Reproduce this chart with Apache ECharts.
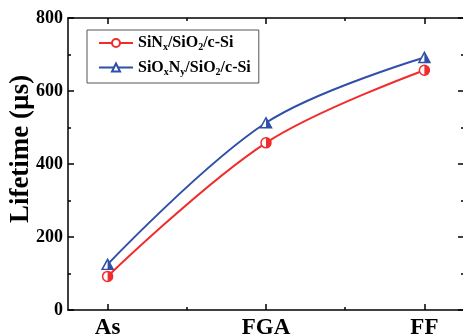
<!DOCTYPE html>
<html><head><meta charset="utf-8">
<script src="https://cdn.jsdelivr.net/npm/echarts@6/dist/echarts.min.js"></script>
<style>html,body{margin:0;padding:0;background:#fff}#c{width:463px;height:335px}</style>
</head><body><div id="c"></div>
<script>
var categories = ['As', 'FGA', 'FF'];
var sinxValues = [92, 458, 657];
var sioxnyValues = [125, 513, 692];
var yTicks = [0, 200, 400, 600, 800];
var seriesNames = ['SiNx/SiO2/c-Si', 'SiOxNy/SiO2/c-Si'];
var legendRich = {
  'SiNx/SiO2/c-Si': '{a|SiN}{s|x}{a|/SiO}{s|2}{a|/c-Si}',
  'SiOxNy/SiO2/c-Si': '{a|SiO}{s|x}{a|N}{s|y}{a|/SiO}{s|2}{a|/c-Si}'
};
var RED = '#f02c2c', BLUE = '#2f4fa8';
var FONT = 'Liberation Serif';
var catIdx = categories.map(function (c, i) { return i; });
function pts(vals) { return vals.map(function (v, i) { return [catIdx[i], v]; }); }

var chart = echarts.init(document.getElementById('c'));
var baseX = { type: 'value', min: -0.25, max: 2.25, splitLine: { show: false } };
var tickStyle = { color: '#000', width: 1.5 };
chart.setOption({
  animation: false,
  grid: { left: 68, top: 18, width: 396, height: 292, containLabel: false, outerBoundsMode: 'none' },
  xAxis: [
    Object.assign({}, baseX, {
      position: 'bottom',
      axisLine: { show: true, onZero: false, lineStyle: { color: '#000', width: 1.5 } },
      axisTick: { show: true, inside: true, length: 6, lineStyle: tickStyle, customValues: catIdx },
      axisLabel: { show: true, margin: 7, customValues: catIdx, color: '#000', fontFamily: FONT, fontWeight: 'bold', fontSize: 23,
        formatter: function (v) { return categories[Math.round(v)]; } }
    }),
    Object.assign({}, baseX, {
      position: 'bottom',
      axisLine: { show: false, onZero: false },
      axisTick: { show: true, inside: true, length: 3, lineStyle: tickStyle, customValues: [0.5, 1.5] },
      axisLabel: { show: false }
    }),
    Object.assign({}, baseX, {
      position: 'top',
      axisLine: { show: true, onZero: false, lineStyle: { color: '#000', width: 1.5 } },
      axisTick: { show: true, inside: true, length: 6, lineStyle: tickStyle, customValues: catIdx },
      axisLabel: { show: false }
    }),
    Object.assign({}, baseX, {
      position: 'top',
      axisLine: { show: false, onZero: false },
      axisTick: { show: true, inside: true, length: 3, lineStyle: tickStyle, customValues: [0.5, 1.5] },
      axisLabel: { show: false }
    })
  ],
  yAxis: [
    {
      type: 'value', min: yTicks[0], max: yTicks[yTicks.length - 1], interval: 200, position: 'left',
      name: 'Lifetime (\u00b5s)', nameLocation: 'middle', nameGap: 33, nameMoveOverlap: false,
      nameTextStyle: { color: '#000', fontFamily: FONT, fontWeight: 'bold', fontSize: 27, padding: [0, 0, 0, 30] },
      splitLine: { show: false },
      axisLine: { show: true, onZero: false, lineStyle: { color: '#000', width: 1.5 } },
      axisTick: { show: true, inside: true, length: 6, lineStyle: tickStyle },
      minorTick: { show: true, splitNumber: 2, length: 3, lineStyle: tickStyle },
      axisLabel: { color: '#000', fontFamily: FONT, fontWeight: 'bold', fontSize: 18, margin: 5 }
    },
    {
      type: 'value', min: yTicks[0], max: yTicks[yTicks.length - 1], interval: 200, position: 'right',
      splitLine: { show: false },
      axisLine: { show: true, onZero: false, lineStyle: { color: '#000', width: 1.5 } },
      axisTick: { show: true, inside: true, length: 6, lineStyle: tickStyle },
      minorTick: { show: true, splitNumber: 2, length: 3, lineStyle: tickStyle },
      axisLabel: { show: false }
    }
  ],
  legend: {
    left: 87, top: 30, orient: 'vertical', itemGap: 7, itemWidth: 34, itemHeight: 10,
    padding: [5, 8, 6, 11],
    borderColor: '#555', borderWidth: 1,
    data: seriesNames,
    formatter: function (n) { return legendRich[n]; },
    textStyle: {
      color: '#000',
      rich: {
        a: { fontFamily: FONT, fontWeight: 'bold', fontSize: 16, color: '#000', lineHeight: 19 },
        s: { fontFamily: FONT, fontWeight: 'bold', fontSize: 10, color: '#000', lineHeight: 10, verticalAlign: 'bottom' }
      }
    }
  },
  series: [
    {
      name: seriesNames[0], type: 'line', smooth: 0.35, data: pts(sinxValues),
      symbol: 'circle', symbolSize: 10,
      lineStyle: { color: RED, width: 2 },
      itemStyle: { color: '#fff', borderColor: RED, borderWidth: 1.5 },
      z: 3
    },
    {
      name: seriesNames[0] + '_half', type: 'line', data: pts(sinxValues),
      lineStyle: { opacity: 0 }, symbol: 'path://M0,0 A1,1 0 0,1 0,2 Z', symbolSize: [5, 10], symbolOffset: [2.5, 0],
      itemStyle: { color: RED }, z: 4, silent: true
    },
    {
      name: seriesNames[1], type: 'line', smooth: 0.35, data: pts(sioxnyValues),
      symbol: 'triangle', symbolSize: [11, 10],
      lineStyle: { color: BLUE, width: 2 },
      itemStyle: { color: '#fff', borderColor: BLUE, borderWidth: 1.5 },
      z: 3
    },
    {
      name: seriesNames[1] + '_half', type: 'line', data: pts(sioxnyValues),
      lineStyle: { opacity: 0 }, symbol: 'path://M0,0 L1,2 L0,2 Z', symbolSize: [5.5, 10], symbolOffset: [2.75, 0],
      itemStyle: { color: BLUE }, z: 4, silent: true
    }
  ]
});
</script></body></html>
